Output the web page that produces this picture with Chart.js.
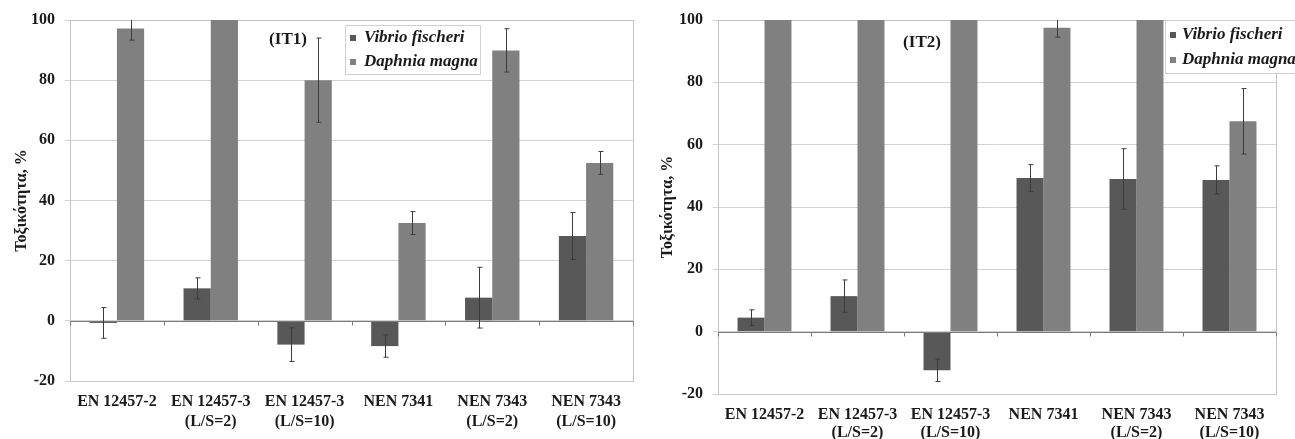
<!DOCTYPE html>
<html>
<head>
<meta charset="utf-8">
<script src="https://cdn.jsdelivr.net/npm/chart.js@4.4.1/dist/chart.umd.min.js"></script>
<style>
  html, body { margin: 0; padding: 0; background: #fff; }
  #wrap { position: relative; width: 1295px; height: 439px; overflow: hidden; }
  #c1 { position: absolute; left: 0; top: 0; }
  #c2 { position: absolute; left: 640px; top: 0; }
</style>
</head>
<body>
<div id="wrap">
  <canvas id="c1" width="640" height="439"></canvas>
  <canvas id="c2" width="655" height="439"></canvas>
</div>
<script>
// categories shared by both panels
const categories = [
  ['EN 12457-2'],
  ['EN 12457-3', '(L/S=2)'],
  ['EN 12457-3', '(L/S=10)'],
  ['NEN 7341'],
  ['NEN 7343', '(L/S=2)'],
  ['NEN 7343', '(L/S=10)']
];
const seriesNames = ['Vibrio fischeri', 'Daphnia magna'];
const yTitle = 'Τοξικότητα, %';

// panel IT1
const it1Vibrio = [-0.7, 10.8, -7.9, -8.4, 7.7, 28.2];
const it1VibrioErr = [5.1, 3.5, 5.6, 3.7, 10.1, 7.8];
const it1Daphnia = [97.2, 100, 80, 32.5, 89.9, 52.5];
const it1DaphniaErr = [3.9, 0, 14, 3.8, 7.2, 3.8];

// panel IT2
const it2Vibrio = [4.5, 11.4, -12.4, 49.3, 49, 48.7];
const it2VibrioErr = [2.5, 5.2, 3.6, 4.3, 9.7, 4.5];
const it2Daphnia = [100, 100, 100, 97.5, 100, 67.5];
const it2DaphniaErr = [0, 0, 0, 3, 0, 10.5];

const yTicks = { min: -20, max: 100, step: 20 };

const colors = { vibrio: '#585858', daphnia: '#808080' };
const SERIF = '"Liberation Serif", "Times New Roman", serif';

// draws frame, zero line with category ticks, error bars, legend box and panel tag
const decorPlugin = {
  id: 'decor',
  beforeDatasetsDraw(chart) {
    const { ctx, chartArea: a } = chart;
    ctx.save();
    ctx.strokeStyle = '#c4c4c4';
    ctx.lineWidth = 1;
    ctx.strokeRect(Math.round(a.left) + 0.5, Math.round(a.top) + 0.5,
      Math.round(a.right - a.left), Math.round(a.bottom - a.top));
    ctx.restore();
  },
  afterDatasetsDraw(chart) {
    const { ctx, chartArea: a, scales } = chart;
    const ys = scales.y, xs = scales.x;
    const y0 = Math.round(ys.getPixelForValue(0)) + 0.5;

    ctx.save();
    // zero axis line + boundary ticks
    ctx.strokeStyle = '#7a7a7a';
    ctx.lineWidth = 1;
    ctx.beginPath();
    ctx.moveTo(a.left, y0);
    ctx.lineTo(a.right, y0);
    for (let i = 0; i <= categories.length; i++) {
      const x = Math.round(xs.getPixelForValue(i - 0.5)) + 0.5;
      ctx.moveTo(x, y0);
      ctx.lineTo(x, y0 + 4);
    }
    ctx.stroke();

    // error bars
    ctx.beginPath();
    ctx.rect(a.left, a.top, a.right - a.left, a.bottom - a.top);
    ctx.clip();
    ctx.strokeStyle = '#3c3c3c';
    chart.data.datasets.forEach((ds, di) => {
      const meta = chart.getDatasetMeta(di);
      meta.data.forEach((bar, i) => {
        const e = ds.errors[i];
        if (!e) return;
        const x = Math.round(bar.x) + 0.5;
        const yt = ys.getPixelForValue(ds.data[i] + e);
        const yb = ys.getPixelForValue(ds.data[i] - e);
        ctx.beginPath();
        ctx.moveTo(x, yt); ctx.lineTo(x, yb);
        ctx.moveTo(x - 2, yt); ctx.lineTo(x + 3, yt);
        ctx.moveTo(x - 2, yb); ctx.lineTo(x + 3, yb);
        ctx.stroke();
      });
    });
    ctx.restore();

    // legend box
    const lg = chart.options.plugins.decor.legend;
    ctx.save();
    ctx.fillStyle = '#fff';
    ctx.fillRect(lg.x, lg.y, lg.w, lg.h);
    ctx.strokeStyle = '#d0d0d0';
    ctx.strokeRect(lg.x + 0.5, lg.y + 0.5, lg.w, lg.h);
    ctx.font = 'italic bold 17px ' + SERIF;
    ctx.textBaseline = 'middle';
    chart.data.datasets.forEach((ds, di) => {
      const cy = lg.y + lg.row0 + di * lg.rowGap;
      ctx.fillStyle = ds.backgroundColor;
      ctx.fillRect(lg.x + lg.mark, cy - 3, 6, 6);
      ctx.fillStyle = '#1a1a1a';
      ctx.fillText(ds.label, lg.x + lg.text, cy);
    });

    // panel tag
    const tag = chart.options.plugins.decor.tag;
    ctx.font = 'bold 17px ' + SERIF;
    ctx.textAlign = 'center';
    ctx.fillText(tag.text, tag.x, tag.y);
    ctx.restore();
  }
};

function makeChart(canvasId, vibrio, vibrioErr, daphnia, daphniaErr, geom) {
  const ctx = document.getElementById(canvasId).getContext('2d');
  return new Chart(ctx, {
    type: 'bar',
    data: {
      labels: categories,
      datasets: [
        { label: seriesNames[0], data: vibrio, errors: vibrioErr, backgroundColor: colors.vibrio },
        { label: seriesNames[1], data: daphnia, errors: daphniaErr, backgroundColor: colors.daphnia }
      ]
    },
    options: {
      responsive: false,
      animation: false,
      layout: { padding: geom.padding },
      datasets: { bar: { categoryPercentage: 0.58, barPercentage: 1.0 } },
      scales: {
        x: {
          grid: { display: false, drawTicks: false },
          border: { display: false },
          ticks: {
            color: '#1a1a1a',
            padding: geom.xPad,
            maxRotation: 0,
            autoSkip: false,
            font: { family: SERIF, size: 16, weight: 'bold', lineHeight: geom.lineHeight }
          },
          afterFit(scale) { scale.height = geom.xHeight; }
        },
        y: {
          min: yTicks.min,
          max: yTicks.max,
          ticks: {
            stepSize: yTicks.step,
            color: '#1a1a1a',
            padding: 10,
            font: { family: SERIF, size: 16, weight: 'bold' }
          },
          grid: { color: '#d2d2d2', tickLength: 5 },
          border: { color: '#c4c4c4' },
          title: {
            display: true,
            text: yTitle,
            color: '#1a1a1a',
            padding: { top: geom.titlePad, bottom: 0 },
            font: { family: SERIF, size: 16, weight: 'bold' }
          },
          afterFit(scale) { scale.width = geom.yWidth; }
        }
      },
      plugins: {
        legend: { display: false },
        tooltip: { enabled: false },
        decor: { legend: geom.legend, tag: geom.tag }
      }
    },
    plugins: [decorPlugin]
  });
}

makeChart('c1', it1Vibrio, it1VibrioErr, it1Daphnia, it1DaphniaErr, {
  padding: { left: 0, top: 20, right: 7, bottom: 0 },
  xHeight: 58, xPad: 11, lineHeight: 1.25, yWidth: 70, titlePad: 12,
  legend: { x: 345, y: 25, w: 135, h: 49, row0: 13, rowGap: 24, mark: 5, text: 19 },
  tag: { text: '(IT1)', x: 288, y: 40 }
});

makeChart('c2', it2Vibrio, it2VibrioErr, it2Daphnia, it2DaphniaErr, {
  padding: { left: 0, top: 20, right: 19, bottom: 0 },
  xHeight: 45, xPad: 12, lineHeight: 1.125, yWidth: 78, titlePad: 18,
  legend: { x: 525, y: 20, w: 140, h: 53, row0: 15, rowGap: 25, mark: 5, text: 17 },
  tag: { text: '(IT2)', x: 282, y: 43 }
});
</script>
</body>
</html>
